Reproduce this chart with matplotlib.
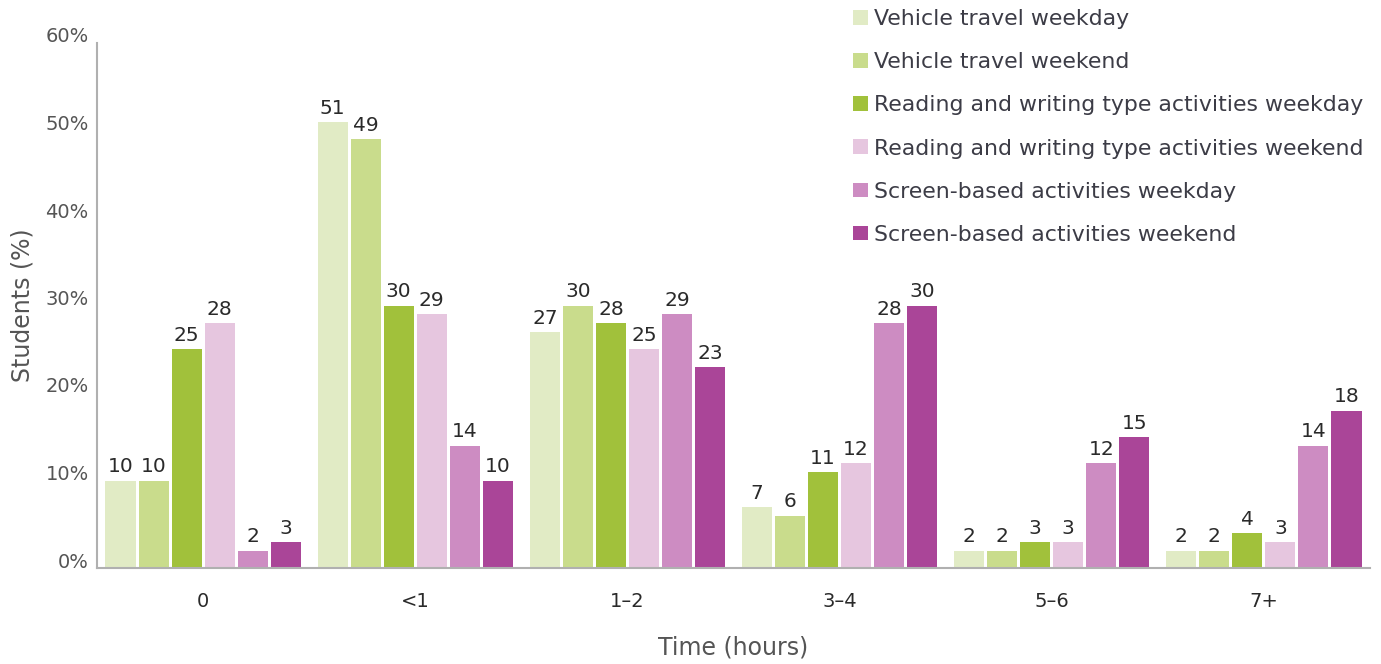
import numpy as np
import matplotlib
matplotlib.use("Agg")
import matplotlib.pyplot as plt
import matplotlib.transforms as mtransforms
from matplotlib.patches import Patch

plt.rcParams['font.family'] = ['DejaVu Sans']

categories = ["0", "<1", "1\u20132", "3\u20134", "5\u20136", "7+"]
series_names = [
    "Vehicle travel weekday",
    "Vehicle travel weekend",
    "Reading and writing type activities weekday",
    "Reading and writing type activities weekend",
    "Screen-based activities weekday",
    "Screen-based activities weekend",
]
vehicle_weekday = [10, 51, 27, 7, 2, 2]
vehicle_weekend = [10, 49, 30, 6, 2, 2]
reading_weekday = [25, 30, 28, 11, 3, 4]
reading_weekend = [28, 29, 25, 12, 3, 3]
screen_weekday = [2, 14, 29, 28, 12, 14]
screen_weekend = [3, 10, 23, 30, 15, 18]
y_ticks = [0, 10, 20, 30, 40, 50, 60]

series = [vehicle_weekday, vehicle_weekend, reading_weekday,
          reading_weekend, screen_weekday, screen_weekend]
colors = ["#e1ebc5", "#c9dc8c", "#a1c13b", "#e6c6df", "#cd8cc2", "#aa4598"]

text_dark = "#2a2a2a"
text_gray = "#555555"
axis_gray = "#b0b0b0"

fig = plt.figure(figsize=(13.81, 6.64), dpi=100)
W, H = 1381, 664
ax = fig.add_axes([97 / W, 96 / H, (1370 - 97) / W, (568 - 43) / H])

x = np.arange(len(categories))
step = 0.1557
width = 0.1415
offsets = (np.arange(len(series)) - (len(series) - 1) / 2) * step

for vals, off, col in zip(series, offsets, colors):
    bars = ax.bar(x + off, vals, width=width, color=col, linewidth=0)
    for b, v in zip(bars, vals):
        ax.annotate(f"{v}", (b.get_x() + b.get_width() / 2, b.get_height()),
                    xytext=(0, 3), textcoords="offset points",
                    ha="center", va="bottom", fontsize=14.5, color=text_dark)

ax.set_xlim(-0.5, len(categories) - 0.5)
ax.set_ylim(0, 60)
ax.set_yticks(y_ticks)
ax.set_yticklabels([f"{t}%" for t in y_ticks])
ax.set_xticks(x)
ax.set_xticklabels(categories)

ax.tick_params(axis="y", length=0, pad=6, labelsize=14, labelcolor=text_gray)
ax.tick_params(axis="x", length=0, pad=17, labelsize=14, labelcolor=text_dark)
# nudge y tick labels upward
shift = mtransforms.ScaledTranslation(0, 8 / 100, fig.dpi_scale_trans)
for lbl in ax.get_yticklabels():
    lbl.set_transform(lbl.get_transform() + shift)

for s in ["top", "right"]:
    ax.spines[s].set_visible(False)
for s in ["left", "bottom"]:
    ax.spines[s].set_color(axis_gray)
    ax.spines[s].set_linewidth(1.5)

ax.set_ylabel("Students (%)", fontsize=17, color=text_gray, labelpad=8)
ax.set_xlabel("Time (hours)", fontsize=17, color=text_gray, labelpad=18)

handles = [Patch(facecolor=c, edgecolor="none") for c in colors]
leg = fig.legend(handles, series_names, loc="upper left",
                 bbox_to_anchor=(849 / W, 1.0 - 5 / H), frameon=False,
                 fontsize=15.8, labelcolor="#3c3c46",
                 handlelength=0.65, handleheight=0.65, handletextpad=0.3,
                 labelspacing=1.05, borderaxespad=0, borderpad=0.2)

fig.savefig("out.png", dpi=100)
